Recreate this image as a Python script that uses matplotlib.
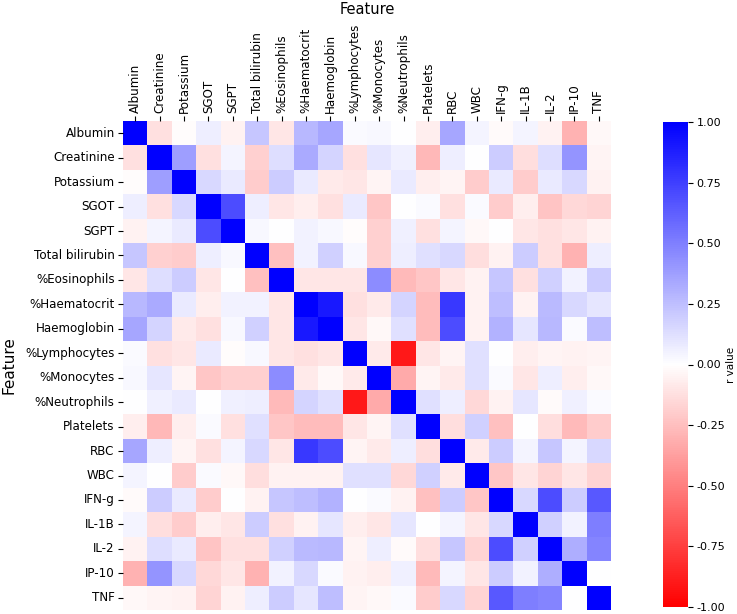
import numpy as np
import pandas as pd
import matplotlib
matplotlib.use("Agg")
import matplotlib.pyplot as plt
import seaborn as sns

features = ["Albumin", "Creatinine", "Potassium", "SGOT", "SGPT", "Total bilirubin",
            "%Eosinophils", "%Haematocrit", "Haemoglobin", "%Lymphocytes", "%Monocytes",
            "%Neutrophils", "Platelets", "RBC", "WBC", "IFN-g", "IL-1B", "IL-2", "IP-10", "TNF"]

# upper triangle of the correlation matrix (row i, cols i..19)
upper = [
    [1.00, -0.12, -0.01, 0.07, -0.05, 0.22, -0.10, 0.28, 0.35, 0.02, 0.03, 0.00, -0.07, 0.35, 0.04, -0.02, 0.04, -0.05, -0.30, -0.03],
    [1.00, 0.38, -0.12, 0.04, -0.18, 0.13, 0.33, 0.17, -0.12, 0.10, 0.06, -0.28, 0.07, 0.00, 0.20, -0.13, 0.13, 0.42, -0.04],
    [1.00, 0.15, 0.08, -0.20, 0.20, 0.08, -0.08, -0.10, -0.04, 0.08, -0.07, -0.04, -0.20, 0.08, -0.20, 0.08, 0.15, -0.05],
    [1.00, 0.70, 0.07, -0.10, -0.07, -0.12, 0.08, -0.22, 0.00, 0.02, -0.12, 0.02, -0.20, -0.07, -0.23, -0.15, -0.17],
    [1.00, 0.03, 0.00, 0.05, 0.03, -0.01, -0.18, 0.06, -0.12, 0.04, -0.03, 0.00, -0.10, -0.12, -0.10, -0.05],
    [1.00, -0.25, 0.05, 0.18, 0.03, -0.18, 0.07, 0.12, 0.15, -0.13, -0.05, 0.20, -0.12, -0.30, 0.07],
    [1.00, -0.10, -0.10, -0.10, 0.45, -0.27, -0.22, -0.10, -0.05, 0.22, -0.12, 0.18, 0.05, 0.20],
    [1.00, 0.90, -0.12, -0.08, 0.17, -0.26, 0.78, -0.05, 0.25, -0.05, 0.27, 0.15, 0.10],
    [1.00, -0.10, -0.03, 0.12, -0.26, 0.70, -0.05, 0.30, 0.10, 0.28, 0.02, 0.25],
    [1.00, -0.08, -0.90, -0.10, -0.04, 0.12, 0.00, -0.07, -0.04, -0.05, -0.04],
    [1.00, -0.33, -0.04, -0.08, 0.12, 0.02, -0.10, 0.07, -0.07, -0.03],
    [1.00, 0.12, 0.07, -0.15, -0.05, 0.10, -0.02, 0.06, 0.02],
    [1.00, -0.13, 0.18, -0.25, 0.00, -0.13, -0.27, -0.20],
    [1.00, -0.08, 0.20, 0.04, 0.22, 0.04, 0.15],
    [1.00, -0.22, -0.10, -0.17, -0.10, -0.17],
    [1.00, 0.15, 0.70, 0.20, 0.65],
    [1.00, 0.18, 0.05, 0.50],
    [1.00, 0.32, 0.48],
    [1.00, 0.00],
    [1.00],
]

n = len(features)
mat = np.zeros((n, n))
for i, row in enumerate(upper):
    for k, v in enumerate(row):
        mat[i, i + k] = v
        mat[i + k, i] = v
df = pd.DataFrame(mat, index=features, columns=features)

fig = plt.figure(figsize=(7.37, 6.14), dpi=100)
ax = fig.add_axes([123 / 737, 1 - 610 / 614, 488 / 737, 489 / 614])
cax = fig.add_axes([663 / 737, 1 - 607 / 614, 25 / 737, 485 / 614])

sns.heatmap(df, ax=ax, cbar_ax=cax, cmap="bwr_r", vmin=-1, vmax=1,
            cbar_kws={"ticks": np.arange(-1, 1.01, 0.25), "format": "%.2f"})

ax.xaxis.tick_top()
ax.xaxis.set_label_position("top")
ax.set_xticklabels(features, rotation=90, fontsize=8.6)
ax.set_yticklabels(features, rotation=0, fontsize=8.6)
ax.tick_params(length=3.5, pad=2.5)
ax.set_xlabel("Feature", fontsize=10.5, labelpad=7)
ax.set_ylabel("Feature", fontsize=11, labelpad=6)
cax.tick_params(labelsize=8, length=3.5, pad=2.5)
cax.set_ylabel("r value", fontsize=7.5, labelpad=1)

fig.savefig("out.png", dpi=100)
